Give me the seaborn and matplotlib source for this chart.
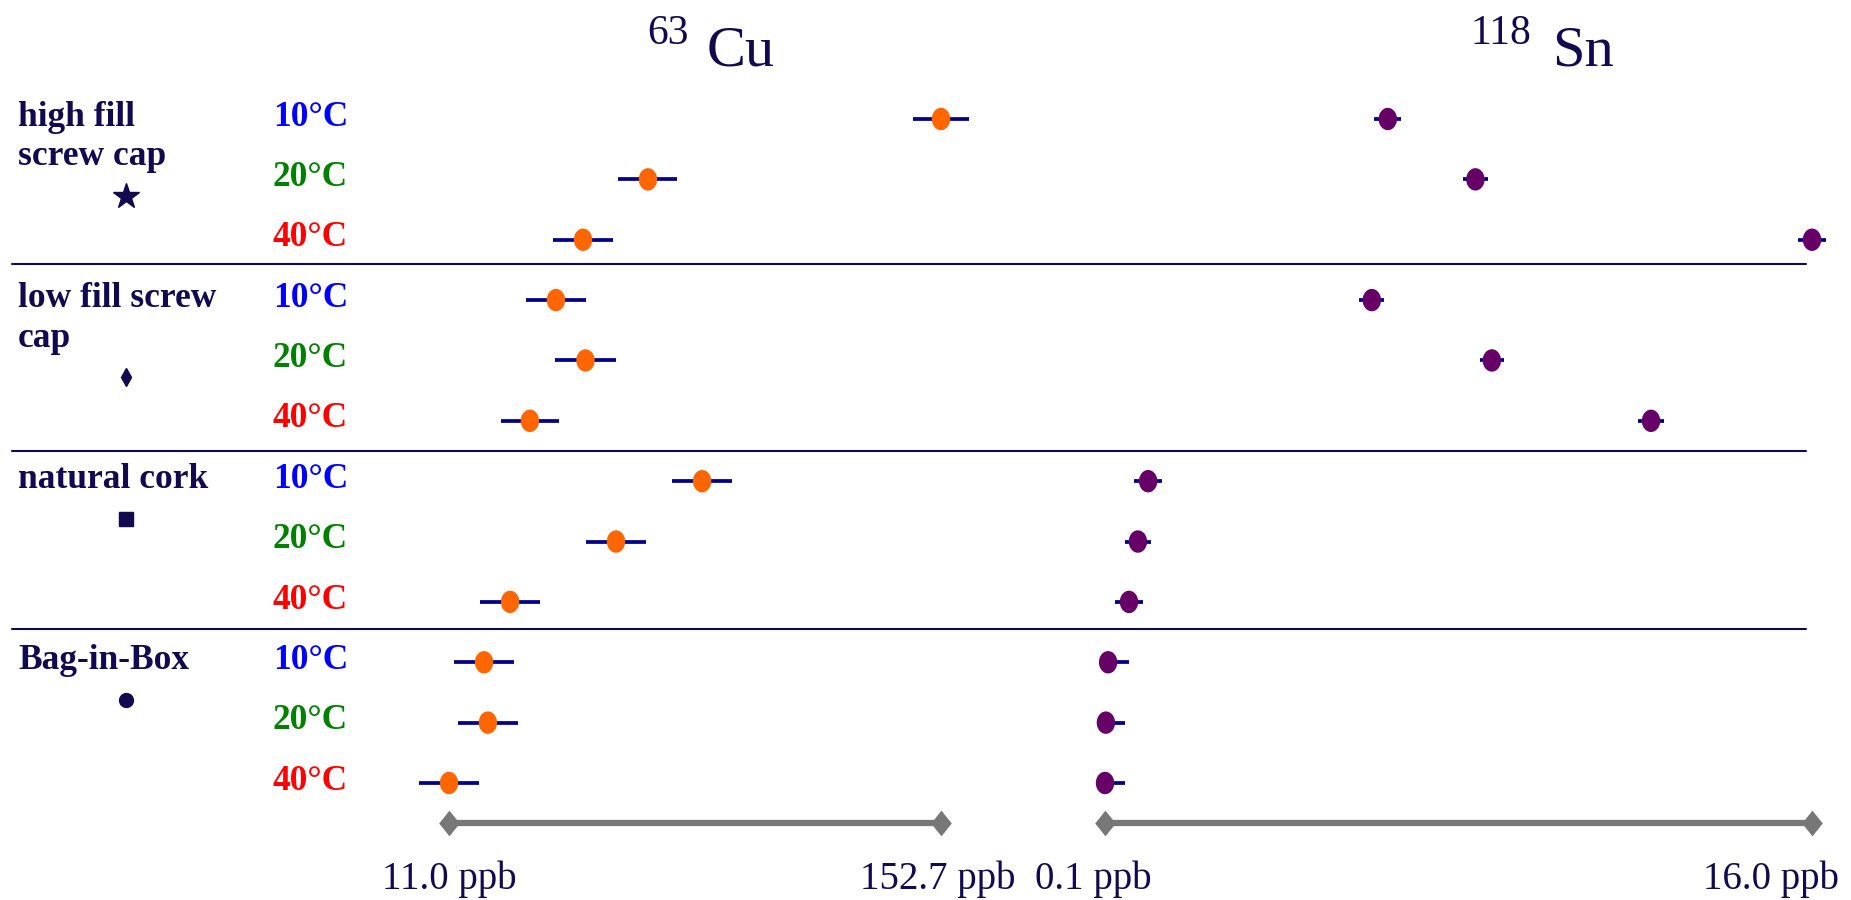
import numpy as np
import pandas as pd
import seaborn as sns
import matplotlib.pyplot as plt
from matplotlib.path import Path
from matplotlib.lines import Line2D
from matplotlib.transforms import blended_transform_factory, offset_copy

# data
closures = [["high fill", "screw cap"], ["low fill screw", "cap"], ["natural cork"], ["Bag-in-Box"]]
closure_marks = ["*", "d", "s", "o"]
temps = ["10°C", "20°C", "40°C"]
temp_colors = ["#0000ff", "#008000", "#ff0000"]

cu_ppb = [152.7, 68.3, 49.6, 41.8, 50.3, 34.3, 83.9, 59.1, 28.6, 21.1, 22.2, 11.0]
cu_sd = [8.2, 8.5, 8.6, 8.6, 8.7, 8.4, 8.6, 8.5, 8.6, 8.6, 8.7, 8.6]
sn_ppb = [6.46, 8.43, 16.0, 6.10, 8.80, 12.38, 1.07, 0.84, 0.64, 0.17, 0.12, 0.10]
sn_sd = [0.30, 0.28, 0.31, 0.28, 0.27, 0.30, 0.31, 0.30, 0.31, 0.46, 0.44, 0.45]

NAVY = "#120a4e"
W, H = 1851, 900

df = pd.DataFrame({
    "row": np.arange(len(cu_ppb)),
    "cu": cu_ppb, "cu_sd": cu_sd,
    "sn": sn_ppb, "sn_sd": sn_sd,
})
df["sn_lo"] = np.minimum(df["sn_sd"], df["sn"])

sns.set_theme(style="white")
plt.rcParams["font.family"] = ["Liberation Serif", "DejaVu Serif"]

fig = plt.figure(figsize=(W / 100, H / 100), dpi=100)


def px_axes(x0, x1, y_top, y_bot):
    return fig.add_axes([x0 / W, 1 - y_bot / H, (x1 - x0) / W, (y_bot - y_top) / H])


# ellipse marker (a bit taller than wide)
t = np.linspace(0, 2 * np.pi, 64)
ellipse = Path(np.column_stack([0.82 * np.cos(t), np.sin(t)]))
diamond = Path([(0, 1), (0.8, 0), (0, -1), (-0.8, 0), (0, 1)])

ax_cu = px_axes(449, 941, 119, 783)
ax_sn = px_axes(1105, 1812, 119, 783)

panels = [
    (ax_cu, "cu", df["cu_sd"], "#ff6600", "63", "Cu", 647, 707),
    (ax_sn, "sn", [df["sn_lo"], df["sn_sd"]], "#660066", "118", "Sn", 1470, 1552),
]

for ax, col, err, color, iso, elem, x_iso, x_el in panels:
    eb = ax.errorbar(df[col], df["row"], xerr=err, fmt="none",
                     ecolor="#00008b", elinewidth=2.7, capsize=0, zorder=2)
    for c in eb.lines[2]:
        c.set_clip_on(False)
    sns.scatterplot(data=df, x=col, y="row", ax=ax, color=color, marker=ellipse,
                    s=260, edgecolor="none", zorder=3, clip_on=False, legend=False)
    lo, hi = df[col].min(), df[col].max()
    ax.set_xlim(lo, hi)
    ax.set_ylim(11, 0)
    ax.axis("off")

    # range bar under each panel
    bar_row = 11.66
    ax.plot([lo, hi], [bar_row, bar_row], color="#777777", lw=4.5,
            solid_capstyle="butt", clip_on=False, zorder=1)
    ax.plot([lo, hi], [bar_row, bar_row], ls="none", marker=diamond, ms=18.5,
            color="#777777", mec="none", clip_on=False, zorder=1)

    fig.text(x_iso / W, 1 - 44 / H, iso, fontsize=30, color=NAVY, va="baseline")
    fig.text(x_el / W, 1 - 65 / H, elem, fontsize=42, color=NAVY, va="baseline")

lab_row = 12.76
ax_cu.text(df["cu"].min(), lab_row, f"{df['cu'].min():.1f} ppb", ha="center",
           va="baseline", fontsize=28, color=NAVY)
ax_cu.text(df["cu"].max(), lab_row, f"{df['cu'].max():.1f} ppb", ha="center",
           va="baseline", fontsize=28, color=NAVY,
           transform=offset_copy(ax_cu.transData, fig=fig, x=-3, units="dots"))
ax_sn.text(df["sn"].min(), lab_row, f"{df['sn'].min():.1f} ppb", ha="center",
           va="baseline", fontsize=28, color=NAVY,
           transform=offset_copy(ax_sn.transData, fig=fig, x=-12, units="dots"))
blend_sn = blended_transform_factory(fig.transFigure, ax_sn.transData)
ax_sn.text(1839 / W, lab_row, f"{df['sn'].max():.1f} ppb", ha="right",
           va="baseline", fontsize=28, color=NAVY, transform=blend_sn)

# left-hand labels
blend = blended_transform_factory(fig.transFigure, ax_cu.transData)
for g, (lines, mk) in enumerate(zip(closures, closure_marks)):
    r0 = g * 3
    for k, line in enumerate(lines):
        fig.text(18 / W, r0 + 0.11 + 0.66 * k, line, transform=blend, fontsize=25.5,
                 fontweight="bold", color=NAVY, va="baseline", ha="left")
    my = r0 + (1.27 if len(lines) == 2 else 0.62)
    ms = {"*": 19, "d": 9, "s": 10, "o": 10}[mk]
    fig.add_artist(Line2D([126 / W], [my], transform=blend, marker=mk, ms=ms,
                          color=NAVY, mec=NAVY, ls="none"))
    for j, (tl, tc) in enumerate(zip(temps, temp_colors)):
        fig.text(348 / W, r0 + j + 0.11, tl, transform=blend, fontsize=25.5,
                 fontweight="bold", color=tc, ha="right", va="baseline")

# separators between closure groups
for r in [2.4, 5.5, 8.45]:
    fig.add_artist(Line2D([12 / W, 1806 / W], [r, r], transform=blend,
                          color=NAVY, lw=1.5))

fig.savefig("out.png", dpi=100)
